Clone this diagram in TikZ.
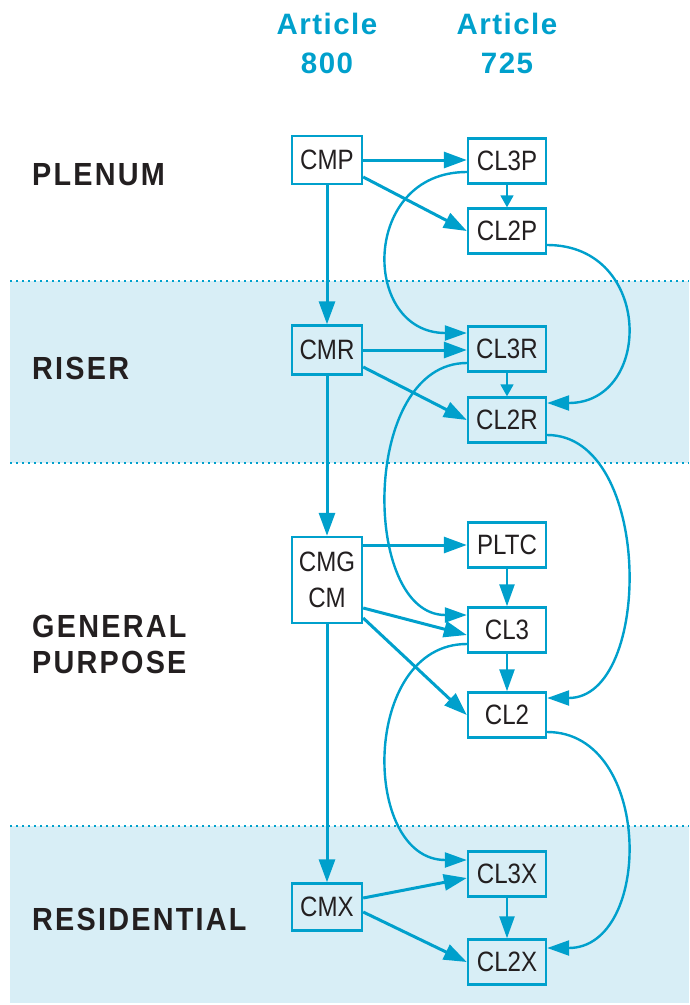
\documentclass[tikz,border=0pt]{standalone}
\usepackage{fontspec}
\setmainfont{Liberation Sans}
\newfontfamily\boxfont{Liberation Sans}[FakeStretch=0.86]
\newfontfamily\catfont{Liberation Sans}[FakeStretch=0.9,LetterSpace=7]
\newfontfamily\headfont{Liberation Sans}[LetterSpace=5]
\usetikzlibrary{arrows.meta}

\definecolor{cblue}{RGB}{0,160,204}
\definecolor{cband}{RGB}{216,238,246}
\definecolor{cdark}{RGB}{35,31,32}

\tikzset{
  box/.style     ={draw=cblue, line width=2.4pt, minimum width=78pt, minimum height=45pt, inner sep=0pt,
                   text=cdark, font=\boxfont\fontsize{28}{30}\selectfont},
  cmbox/.style   ={box, minimum width=70pt},
  feed/.style    ={-{Triangle[length=23pt,width=16pt]}, draw=cblue, line width=3pt},
  swing/.style   ={-{Triangle[length=22pt,width=15pt]}, draw=cblue, line width=2.4pt},
  drop/.style    ={-{Triangle[length=12pt,width=13pt]}, draw=cblue, line width=1.8pt},
  band/.style    ={fill=cband},
  border/.style  ={draw=cblue, line width=2pt, dash pattern=on 2pt off 4pt},
  category/.style={anchor=west, text=cdark, font=\catfont\bfseries\fontsize{32}{36}\selectfont, align=left, inner sep=0pt},
  heading/.style ={text=cblue, font=\headfont\bfseries\fontsize{29.5}{39}\selectfont, align=center, inner sep=0pt}
}

\begin{document}
\begin{tikzpicture}[x=1pt, y=-1pt]
    \useasboundingbox (0,0) rectangle (689,1005);

    % riser and residential bands
    \fill[band] (10,281) rectangle (689,463);
    \fill[band] (10,826) rectangle (689,1003);
    \draw[border] (10,281) -- (689,281);
    \draw[border] (10,463) -- (689,463);
    \draw[border] (10,826) -- (689,826);

    % column headings
    \node[heading] (art800) at (327,43) {Article\\800};
    \node[heading] (art725) at (507,43) {Article\\725};

    % categories
    \node[category] (plenum)  at (32,175) {PLENUM};
    \node[category] (riser)   at (32,368) {RISER};
    \node[category] (general) at (32,644) {GENERAL\\PURPOSE};
    \node[category] (resid)   at (32,919) {RESIDENTIAL};

    % article 800 cables
    \node[cmbox, minimum height=48pt] (CMP) at (327,160) {CMP};
    \node[cmbox, minimum height=49pt] (CMR) at (327,350) {CMR};
    \node[cmbox, minimum height=86pt, align=center, font=\boxfont\fontsize{28}{36}\selectfont] (CMG) at (327,580) {CMG\\CM};
    \node[cmbox, minimum height=47pt] (CMX) at (327,907) {CMX};

    % article 725 cables
    \node[box] (CL3P) at (507,161) {CL3P};
    \node[box] (CL2P) at (507,231) {CL2P};
    \node[box] (CL3R) at (507,349) {CL3R};
    \node[box] (CL2R) at (507,420) {CL2R};
    \node[box] (PLTC) at (507,545) {PLTC};
    \node[box] (CL3)  at (507,630) {CL3};
    \node[box] (CL2)  at (507,715) {CL2};
    \node[box] (CL3X) at (507,874) {CL3X};
    \node[box] (CL2X) at (507,962) {CL2X};

    % substitutions down the 800 column
    \draw[feed] (CMP.south) -- (CMR.north);
    \draw[feed] (CMR.south) -- (CMG.north);
    \draw[feed] (CMG.south) -- (CMX.north);

    % 800 to 725
    \draw[feed] (CMP.east) -- (CMP.east -| CL3P.west);
    \draw[feed] ([yshift=-17pt]CMP.east) -- (CL2P.west);
    \draw[feed] (CMR.east) -- (CMR.east -| CL3R.west);
    \draw[feed] ([yshift=-17pt]CMR.east) -- (CL2R.west);
    \draw[feed] (PLTC.west -| CMG.east) -- (PLTC.west);
    \draw[feed] ([yshift=-28pt]CMG.east) -- ([yshift=-5pt]CL3.west);
    \draw[feed] ([yshift=-38pt]CMG.east) -- (CL2.west);
    \draw[feed] ([yshift=9pt]CMX.east) -- ([yshift=-4pt]CL3X.west);
    \draw[feed] ([yshift=-5pt]CMX.east) -- (CL2X.west);

    % within the 725 column
    \draw[drop]  (CL3P.south) -- (CL2P.north);
    \draw[drop]  (CL3R.south) -- (CL2R.north);
    \draw[swing] (PLTC.south) -- (CL3.north);
    \draw[swing] (CL3.south) -- (CL2.north);
    \draw[swing] (CL3X.south) -- (CL2X.north);

    % class 3 loops on the left
    \draw[swing] ([yshift=-11pt]CL3P.west) .. controls +(-106,0) and +(-106,0) .. ([yshift=16pt]CL3R.west);
    \draw[swing] ([yshift=-14pt]CL3R.west) .. controls +(-106,0) and +(-106,0) .. ([yshift=15pt]CL3.west);
    \draw[swing] ([yshift=-14pt]CL3.west) .. controls +(-106,0) and +(-106,0) .. ([yshift=14pt]CL3X.west);

    % class 2 loops on the right
    \draw[swing] ([yshift=-14pt]CL2P.east) .. controls +(106,0) and +(106,0) .. ([yshift=17pt]CL2R.east);
    \draw[swing] ([yshift=-15pt]CL2R.east) .. controls +(106,0) and +(106,0) .. ([yshift=17pt]CL2.east);
    \draw[swing] ([yshift=-17pt]CL2.east) .. controls +(106,0) and +(106,0) .. ([yshift=14pt]CL2X.east);
\end{tikzpicture}
\end{document}
